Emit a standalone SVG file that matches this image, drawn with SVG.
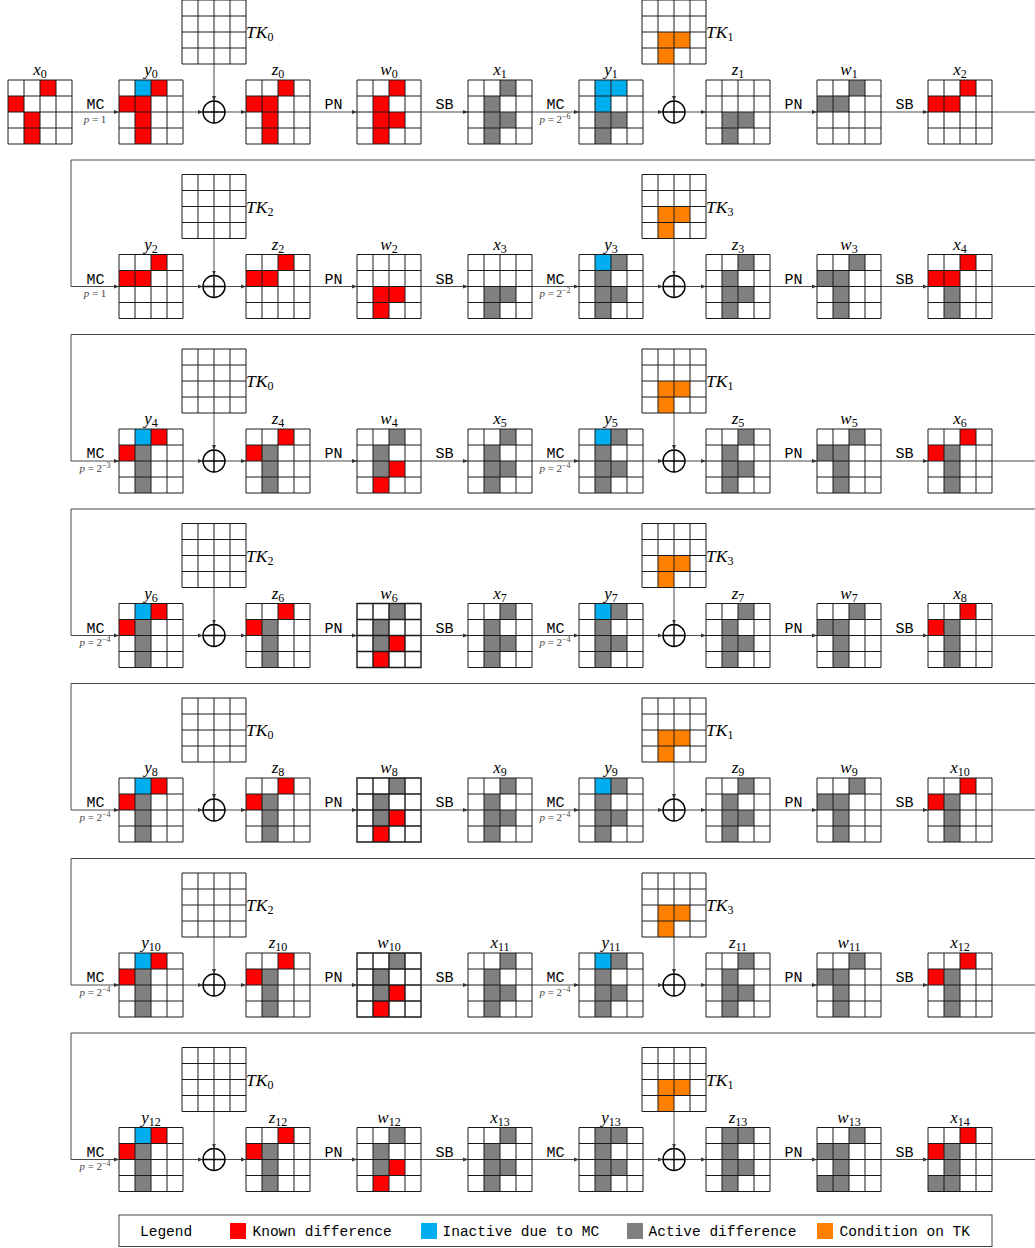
<svg xmlns="http://www.w3.org/2000/svg" xmlns:xlink="http://www.w3.org/1999/xlink" width="1035" height="1248" viewBox="0 0 1035 1248">
<style>
.bg{fill:#fff}
.r{fill:#ff0000}.b{fill:#00aeef}.g{fill:#808080}.o{fill:#ff8000}
.gl{fill:none;stroke:#1a1a1a;stroke-width:1}
.gl.bold{stroke-width:1.4}
.lab{font-family:"Liberation Serif",serif;font-style:italic;font-size:17px;text-anchor:middle;fill:#000}
.tk{font-family:"Liberation Serif",serif;font-style:italic;font-size:17.5px;fill:#000}
.sb{font-style:normal;font-size:12px}
.op{font-family:"Liberation Mono",monospace;font-size:15px;text-anchor:middle;fill:#000}
.p{font-family:"Liberation Serif",serif;font-size:11px;text-anchor:middle;fill:#444}
.pi{font-style:italic}
.sup{font-size:8px}
.conn path{fill:none;stroke:#333;stroke-width:0.9}
.arr{marker-end:url(#ah)}
.xc{fill:#fff;stroke:#000;stroke-width:1.4}
.xp{fill:none;stroke:#000;stroke-width:1.4}
.leg{font-family:"Liberation Mono",monospace;font-size:14.5px;fill:#000}
.legbox{fill:#fff;stroke:#444;stroke-width:1}
</style>
<defs>
<marker id="ah" viewBox="0 0 6 6" refX="6" refY="3" markerWidth="5" markerHeight="5" orient="auto" markerUnits="userSpaceOnUse"><path d="M0,0.6 L6,3 L0,5.4 Z" fill="#333"/></marker>
<path id="gl" d="M0,0H64V64H0Z M16,0V64 M32,0V64 M48,0V64 M0,16H64 M0,32H64 M0,48H64"/>
<g id="xorsym"><circle class="xc" cx="0" cy="0" r="11"/><path class="xp" d="M-11,0H11M0,-11V11"/></g>
<g id="p_x0"><rect class="r" x="32" y="0" width="16" height="16"/><rect class="r" x="0" y="16" width="16" height="16"/><rect class="r" x="16" y="32" width="16" height="16"/><rect class="r" x="16" y="48" width="16" height="16"/></g>
<g id="p_y0"><rect class="b" x="16" y="0" width="16" height="16"/><rect class="r" x="32" y="0" width="16" height="16"/><rect class="r" x="0" y="16" width="16" height="16"/><rect class="r" x="16" y="16" width="16" height="16"/><rect class="r" x="16" y="32" width="16" height="16"/><rect class="r" x="16" y="48" width="16" height="16"/></g>
<g id="p_z0"><rect class="r" x="32" y="0" width="16" height="16"/><rect class="r" x="0" y="16" width="16" height="16"/><rect class="r" x="16" y="16" width="16" height="16"/><rect class="r" x="16" y="32" width="16" height="16"/><rect class="r" x="16" y="48" width="16" height="16"/></g>
<g id="p_w0"><rect class="r" x="32" y="0" width="16" height="16"/><rect class="r" x="16" y="16" width="16" height="16"/><rect class="r" x="16" y="32" width="16" height="16"/><rect class="r" x="32" y="32" width="16" height="16"/><rect class="r" x="16" y="48" width="16" height="16"/></g>
<g id="p_x1"><rect class="g" x="32" y="0" width="16" height="16"/><rect class="g" x="16" y="16" width="16" height="16"/><rect class="g" x="16" y="32" width="16" height="16"/><rect class="g" x="32" y="32" width="16" height="16"/><rect class="g" x="16" y="48" width="16" height="16"/></g>
<g id="p_y1"><rect class="b" x="16" y="0" width="16" height="16"/><rect class="b" x="32" y="0" width="16" height="16"/><rect class="b" x="16" y="16" width="16" height="16"/><rect class="g" x="16" y="32" width="16" height="16"/><rect class="g" x="32" y="32" width="16" height="16"/><rect class="g" x="16" y="48" width="16" height="16"/></g>
<g id="p_tk"><rect class="o" x="16" y="32" width="16" height="16"/><rect class="o" x="32" y="32" width="16" height="16"/><rect class="o" x="16" y="48" width="16" height="16"/></g>
<g id="p_z1"><rect class="g" x="16" y="32" width="16" height="16"/><rect class="g" x="32" y="32" width="16" height="16"/><rect class="g" x="16" y="48" width="16" height="16"/></g>
<g id="p_w1"><rect class="g" x="32" y="0" width="16" height="16"/><rect class="g" x="0" y="16" width="16" height="16"/><rect class="g" x="16" y="16" width="16" height="16"/></g>
<g id="p_x2"><rect class="r" x="32" y="0" width="16" height="16"/><rect class="r" x="0" y="16" width="16" height="16"/><rect class="r" x="16" y="16" width="16" height="16"/></g>
<g id="p_w2"><rect class="r" x="16" y="32" width="16" height="16"/><rect class="r" x="32" y="32" width="16" height="16"/><rect class="r" x="16" y="48" width="16" height="16"/></g>
<g id="p_y3"><rect class="b" x="16" y="0" width="16" height="16"/><rect class="g" x="32" y="0" width="16" height="16"/><rect class="g" x="16" y="16" width="16" height="16"/><rect class="g" x="16" y="32" width="16" height="16"/><rect class="g" x="32" y="32" width="16" height="16"/><rect class="g" x="16" y="48" width="16" height="16"/></g>
<g id="p_w3"><rect class="g" x="32" y="0" width="16" height="16"/><rect class="g" x="0" y="16" width="16" height="16"/><rect class="g" x="16" y="16" width="16" height="16"/><rect class="g" x="16" y="32" width="16" height="16"/><rect class="g" x="16" y="48" width="16" height="16"/></g>
<g id="p_x4"><rect class="r" x="32" y="0" width="16" height="16"/><rect class="r" x="0" y="16" width="16" height="16"/><rect class="r" x="16" y="16" width="16" height="16"/><rect class="g" x="16" y="32" width="16" height="16"/><rect class="g" x="16" y="48" width="16" height="16"/></g>
<g id="p_yA"><rect class="b" x="16" y="0" width="16" height="16"/><rect class="r" x="32" y="0" width="16" height="16"/><rect class="r" x="0" y="16" width="16" height="16"/><rect class="g" x="16" y="16" width="16" height="16"/><rect class="g" x="16" y="32" width="16" height="16"/><rect class="g" x="16" y="48" width="16" height="16"/></g>
<g id="p_zA"><rect class="r" x="32" y="0" width="16" height="16"/><rect class="r" x="0" y="16" width="16" height="16"/><rect class="g" x="16" y="16" width="16" height="16"/><rect class="g" x="16" y="32" width="16" height="16"/><rect class="g" x="16" y="48" width="16" height="16"/></g>
<g id="p_wA"><rect class="g" x="32" y="0" width="16" height="16"/><rect class="g" x="16" y="16" width="16" height="16"/><rect class="g" x="16" y="32" width="16" height="16"/><rect class="r" x="32" y="32" width="16" height="16"/><rect class="r" x="16" y="48" width="16" height="16"/></g>
<g id="p_y13"><rect class="g" x="16" y="0" width="16" height="16"/><rect class="g" x="32" y="0" width="16" height="16"/><rect class="g" x="16" y="16" width="16" height="16"/><rect class="g" x="16" y="32" width="16" height="16"/><rect class="g" x="32" y="32" width="16" height="16"/><rect class="g" x="16" y="48" width="16" height="16"/></g>
<g id="p_w13"><rect class="g" x="32" y="0" width="16" height="16"/><rect class="g" x="0" y="16" width="16" height="16"/><rect class="g" x="16" y="16" width="16" height="16"/><rect class="g" x="16" y="32" width="16" height="16"/><rect class="g" x="0" y="48" width="16" height="16"/><rect class="g" x="16" y="48" width="16" height="16"/></g>
<g id="p_x14"><rect class="r" x="32" y="0" width="16" height="16"/><rect class="r" x="0" y="16" width="16" height="16"/><rect class="g" x="16" y="16" width="16" height="16"/><rect class="g" x="16" y="32" width="16" height="16"/><rect class="g" x="0" y="48" width="16" height="16"/><rect class="g" x="16" y="48" width="16" height="16"/></g>
</defs>

<!-- connectors -->
<g id="connectors" class="conn">
<g transform="translate(0,112)">
<path class="arr" d="M72,0H119"/>
<path class="arr" d="M183,0H203"/><path class="arr" d="M225,0H246"/><path class="arr" d="M310,0H357"/><path class="arr" d="M421,0H468"/><path class="arr" d="M532,0H579"/><path class="arr" d="M643,0H663"/><path class="arr" d="M685,0H706"/><path class="arr" d="M770,0H817"/><path class="arr" d="M881,0H928"/><path d="M992,0H1035"/>
<path class="arr" d="M214,-48V-11"/><path class="arr" d="M674,-48V-11"/>
</g>
<g transform="translate(0,286.5)">
<path class="arr" d="M1035,-126.5H71V0H119"/>
<path class="arr" d="M183,0H203"/><path class="arr" d="M225,0H246"/><path class="arr" d="M310,0H357"/><path class="arr" d="M421,0H468"/><path class="arr" d="M532,0H579"/><path class="arr" d="M643,0H663"/><path class="arr" d="M685,0H706"/><path class="arr" d="M770,0H817"/><path class="arr" d="M881,0H928"/><path d="M992,0H1035"/>
<path class="arr" d="M214,-48V-11"/><path class="arr" d="M674,-48V-11"/>
</g>
<g transform="translate(0,461)">
<path class="arr" d="M1035,-126.5H71V0H119"/>
<path class="arr" d="M183,0H203"/><path class="arr" d="M225,0H246"/><path class="arr" d="M310,0H357"/><path class="arr" d="M421,0H468"/><path class="arr" d="M532,0H579"/><path class="arr" d="M643,0H663"/><path class="arr" d="M685,0H706"/><path class="arr" d="M770,0H817"/><path class="arr" d="M881,0H928"/><path d="M992,0H1035"/>
<path class="arr" d="M214,-48V-11"/><path class="arr" d="M674,-48V-11"/>
</g>
<g transform="translate(0,635.5)">
<path class="arr" d="M1035,-126.5H71V0H119"/>
<path class="arr" d="M183,0H203"/><path class="arr" d="M225,0H246"/><path class="arr" d="M310,0H357"/><path class="arr" d="M421,0H468"/><path class="arr" d="M532,0H579"/><path class="arr" d="M643,0H663"/><path class="arr" d="M685,0H706"/><path class="arr" d="M770,0H817"/><path class="arr" d="M881,0H928"/><path d="M992,0H1035"/>
<path class="arr" d="M214,-48V-11"/><path class="arr" d="M674,-48V-11"/>
</g>
<g transform="translate(0,810)">
<path class="arr" d="M1035,-126.5H71V0H119"/>
<path class="arr" d="M183,0H203"/><path class="arr" d="M225,0H246"/><path class="arr" d="M310,0H357"/><path class="arr" d="M421,0H468"/><path class="arr" d="M532,0H579"/><path class="arr" d="M643,0H663"/><path class="arr" d="M685,0H706"/><path class="arr" d="M770,0H817"/><path class="arr" d="M881,0H928"/><path d="M992,0H1035"/>
<path class="arr" d="M214,-48V-11"/><path class="arr" d="M674,-48V-11"/>
</g>
<g transform="translate(0,985)">
<path class="arr" d="M1035,-126.5H71V0H119"/>
<path class="arr" d="M183,0H203"/><path class="arr" d="M225,0H246"/><path class="arr" d="M310,0H357"/><path class="arr" d="M421,0H468"/><path class="arr" d="M532,0H579"/><path class="arr" d="M643,0H663"/><path class="arr" d="M685,0H706"/><path class="arr" d="M770,0H817"/><path class="arr" d="M881,0H928"/><path d="M992,0H1035"/>
<path class="arr" d="M214,-48V-11"/><path class="arr" d="M674,-48V-11"/>
</g>
<g transform="translate(0,1159.5)">
<path class="arr" d="M1035,-126.5H71V0H119"/>
<path class="arr" d="M183,0H203"/><path class="arr" d="M225,0H246"/><path class="arr" d="M310,0H357"/><path class="arr" d="M421,0H468"/><path class="arr" d="M532,0H579"/><path class="arr" d="M643,0H663"/><path class="arr" d="M685,0H706"/><path class="arr" d="M770,0H817"/><path class="arr" d="M881,0H928"/><path d="M992,0H1035"/>
<path class="arr" d="M214,-48V-11"/><path class="arr" d="M674,-48V-11"/>
</g>
</g>

<!-- operation labels -->
<g id="op-labels">
<g transform="translate(0,112)">
<text class="op" x="95.5" y="-3">MC</text><text class="p" x="95" y="10.5"><tspan class="pi">p</tspan> = 1</text>
<text class="op" x="333.5" y="-3">PN</text><text class="op" x="444.5" y="-3">SB</text>
<text class="op" x="555.5" y="-3">MC</text><text class="p" x="555" y="10.5"><tspan class="pi">p</tspan> = 2<tspan class="sup" dy="-4">−6</tspan></text>
<text class="op" x="793.5" y="-3">PN</text><text class="op" x="904.5" y="-3">SB</text>
</g>
<g transform="translate(0,286.5)">
<text class="op" x="95.5" y="-3">MC</text><text class="p" x="95" y="10.5"><tspan class="pi">p</tspan> = 1</text>
<text class="op" x="333.5" y="-3">PN</text><text class="op" x="444.5" y="-3">SB</text>
<text class="op" x="555.5" y="-3">MC</text><text class="p" x="555" y="10.5"><tspan class="pi">p</tspan> = 2<tspan class="sup" dy="-4">−2</tspan></text>
<text class="op" x="793.5" y="-3">PN</text><text class="op" x="904.5" y="-3">SB</text>
</g>
<g transform="translate(0,461)">
<text class="op" x="95.5" y="-3">MC</text><text class="p" x="95" y="10.5"><tspan class="pi">p</tspan> = 2<tspan class="sup" dy="-4">−3</tspan></text>
<text class="op" x="333.5" y="-3">PN</text><text class="op" x="444.5" y="-3">SB</text>
<text class="op" x="555.5" y="-3">MC</text><text class="p" x="555" y="10.5"><tspan class="pi">p</tspan> = 2<tspan class="sup" dy="-4">−4</tspan></text>
<text class="op" x="793.5" y="-3">PN</text><text class="op" x="904.5" y="-3">SB</text>
</g>
<g transform="translate(0,635.5)">
<text class="op" x="95.5" y="-3">MC</text><text class="p" x="95" y="10.5"><tspan class="pi">p</tspan> = 2<tspan class="sup" dy="-4">−4</tspan></text>
<text class="op" x="333.5" y="-3">PN</text><text class="op" x="444.5" y="-3">SB</text>
<text class="op" x="555.5" y="-3">MC</text><text class="p" x="555" y="10.5"><tspan class="pi">p</tspan> = 2<tspan class="sup" dy="-4">−4</tspan></text>
<text class="op" x="793.5" y="-3">PN</text><text class="op" x="904.5" y="-3">SB</text>
</g>
<g transform="translate(0,810)">
<text class="op" x="95.5" y="-3">MC</text><text class="p" x="95" y="10.5"><tspan class="pi">p</tspan> = 2<tspan class="sup" dy="-4">−4</tspan></text>
<text class="op" x="333.5" y="-3">PN</text><text class="op" x="444.5" y="-3">SB</text>
<text class="op" x="555.5" y="-3">MC</text><text class="p" x="555" y="10.5"><tspan class="pi">p</tspan> = 2<tspan class="sup" dy="-4">−4</tspan></text>
<text class="op" x="793.5" y="-3">PN</text><text class="op" x="904.5" y="-3">SB</text>
</g>
<g transform="translate(0,985)">
<text class="op" x="95.5" y="-3">MC</text><text class="p" x="95" y="10.5"><tspan class="pi">p</tspan> = 2<tspan class="sup" dy="-4">−4</tspan></text>
<text class="op" x="333.5" y="-3">PN</text><text class="op" x="444.5" y="-3">SB</text>
<text class="op" x="555.5" y="-3">MC</text><text class="p" x="555" y="10.5"><tspan class="pi">p</tspan> = 2<tspan class="sup" dy="-4">−4</tspan></text>
<text class="op" x="793.5" y="-3">PN</text><text class="op" x="904.5" y="-3">SB</text>
</g>
<g transform="translate(0,1159.5)">
<text class="op" x="95.5" y="-3">MC</text><text class="p" x="95" y="10.5"><tspan class="pi">p</tspan> = 2<tspan class="sup" dy="-4">−4</tspan></text>
<text class="op" x="333.5" y="-3">PN</text><text class="op" x="444.5" y="-3">SB</text>
<text class="op" x="555.5" y="-3">MC</text>
<text class="op" x="793.5" y="-3">PN</text><text class="op" x="904.5" y="-3">SB</text>
</g>
</g>

<!-- row 0 -->
<g id="row0" transform="translate(0,112)">
<g id="x0" transform="translate(8,-32)"><rect class="bg" width="64" height="64"/><use href="#p_x0"/><use href="#gl" class="gl"/><text class="lab" x="32" y="-5">x<tspan class="sb" dy="3">0</tspan></text></g>
<g id="y0" transform="translate(119,-32)"><rect class="bg" width="64" height="64"/><use href="#p_y0"/><use href="#gl" class="gl"/><text class="lab" x="32" y="-5">y<tspan class="sb" dy="3">0</tspan></text></g>
<g id="TK0-r0" transform="translate(182,-112)"><rect class="bg" width="64" height="64"/><use href="#gl" class="gl"/><text class="tk" x="64" y="38">TK<tspan class="sb" dy="3">0</tspan></text></g>
<g id="xor0a"><use href="#xorsym" x="214" y="0"/></g>
<g id="z0" transform="translate(246,-32)"><rect class="bg" width="64" height="64"/><use href="#p_z0"/><use href="#gl" class="gl"/><text class="lab" x="32" y="-5">z<tspan class="sb" dy="3">0</tspan></text></g>
<g id="w0" transform="translate(357,-32)"><rect class="bg" width="64" height="64"/><use href="#p_w0"/><use href="#gl" class="gl"/><text class="lab" x="32" y="-5">w<tspan class="sb" dy="3">0</tspan></text></g>
<g id="x1" transform="translate(468,-32)"><rect class="bg" width="64" height="64"/><use href="#p_x1"/><use href="#gl" class="gl"/><text class="lab" x="32" y="-5">x<tspan class="sb" dy="3">1</tspan></text></g>
<g id="y1" transform="translate(579,-32)"><rect class="bg" width="64" height="64"/><use href="#p_y1"/><use href="#gl" class="gl"/><text class="lab" x="32" y="-5">y<tspan class="sb" dy="3">1</tspan></text></g>
<g id="TK1-r0" transform="translate(642,-112)"><rect class="bg" width="64" height="64"/><use href="#p_tk"/><use href="#gl" class="gl"/><text class="tk" x="64" y="38">TK<tspan class="sb" dy="3">1</tspan></text></g>
<g id="xor0b"><use href="#xorsym" x="674" y="0"/></g>
<g id="z1" transform="translate(706,-32)"><rect class="bg" width="64" height="64"/><use href="#p_z1"/><use href="#gl" class="gl"/><text class="lab" x="32" y="-5">z<tspan class="sb" dy="3">1</tspan></text></g>
<g id="w1" transform="translate(817,-32)"><rect class="bg" width="64" height="64"/><use href="#p_w1"/><use href="#gl" class="gl"/><text class="lab" x="32" y="-5">w<tspan class="sb" dy="3">1</tspan></text></g>
<g id="x2" transform="translate(928,-32)"><rect class="bg" width="64" height="64"/><use href="#p_x2"/><use href="#gl" class="gl"/><text class="lab" x="32" y="-5">x<tspan class="sb" dy="3">2</tspan></text></g>
</g>

<!-- row 1 -->
<g id="row1" transform="translate(0,286.5)">
<g id="y2" transform="translate(119,-32)"><rect class="bg" width="64" height="64"/><use href="#p_x2"/><use href="#gl" class="gl"/><text class="lab" x="32" y="-5">y<tspan class="sb" dy="3">2</tspan></text></g>
<g id="TK2-r1" transform="translate(182,-112)"><rect class="bg" width="64" height="64"/><use href="#gl" class="gl"/><text class="tk" x="64" y="38">TK<tspan class="sb" dy="3">2</tspan></text></g>
<g id="xor1a"><use href="#xorsym" x="214" y="0"/></g>
<g id="z2" transform="translate(246,-32)"><rect class="bg" width="64" height="64"/><use href="#p_x2"/><use href="#gl" class="gl"/><text class="lab" x="32" y="-5">z<tspan class="sb" dy="3">2</tspan></text></g>
<g id="w2" transform="translate(357,-32)"><rect class="bg" width="64" height="64"/><use href="#p_w2"/><use href="#gl" class="gl"/><text class="lab" x="32" y="-5">w<tspan class="sb" dy="3">2</tspan></text></g>
<g id="x3" transform="translate(468,-32)"><rect class="bg" width="64" height="64"/><use href="#p_z1"/><use href="#gl" class="gl"/><text class="lab" x="32" y="-5">x<tspan class="sb" dy="3">3</tspan></text></g>
<g id="y3" transform="translate(579,-32)"><rect class="bg" width="64" height="64"/><use href="#p_y3"/><use href="#gl" class="gl"/><text class="lab" x="32" y="-5">y<tspan class="sb" dy="3">3</tspan></text></g>
<g id="TK3-r1" transform="translate(642,-112)"><rect class="bg" width="64" height="64"/><use href="#p_tk"/><use href="#gl" class="gl"/><text class="tk" x="64" y="38">TK<tspan class="sb" dy="3">3</tspan></text></g>
<g id="xor1b"><use href="#xorsym" x="674" y="0"/></g>
<g id="z3" transform="translate(706,-32)"><rect class="bg" width="64" height="64"/><use href="#p_x1"/><use href="#gl" class="gl"/><text class="lab" x="32" y="-5">z<tspan class="sb" dy="3">3</tspan></text></g>
<g id="w3" transform="translate(817,-32)"><rect class="bg" width="64" height="64"/><use href="#p_w3"/><use href="#gl" class="gl"/><text class="lab" x="32" y="-5">w<tspan class="sb" dy="3">3</tspan></text></g>
<g id="x4" transform="translate(928,-32)"><rect class="bg" width="64" height="64"/><use href="#p_x4"/><use href="#gl" class="gl"/><text class="lab" x="32" y="-5">x<tspan class="sb" dy="3">4</tspan></text></g>
</g>

<!-- row 2 -->
<g id="row2" transform="translate(0,461)">
<g id="y4" transform="translate(119,-32)"><rect class="bg" width="64" height="64"/><use href="#p_yA"/><use href="#gl" class="gl"/><text class="lab" x="32" y="-5">y<tspan class="sb" dy="3">4</tspan></text></g>
<g id="TK0-r2" transform="translate(182,-112)"><rect class="bg" width="64" height="64"/><use href="#gl" class="gl"/><text class="tk" x="64" y="38">TK<tspan class="sb" dy="3">0</tspan></text></g>
<g id="xor2a"><use href="#xorsym" x="214" y="0"/></g>
<g id="z4" transform="translate(246,-32)"><rect class="bg" width="64" height="64"/><use href="#p_zA"/><use href="#gl" class="gl"/><text class="lab" x="32" y="-5">z<tspan class="sb" dy="3">4</tspan></text></g>
<g id="w4" transform="translate(357,-32)"><rect class="bg" width="64" height="64"/><use href="#p_wA"/><use href="#gl" class="gl"/><text class="lab" x="32" y="-5">w<tspan class="sb" dy="3">4</tspan></text></g>
<g id="x5" transform="translate(468,-32)"><rect class="bg" width="64" height="64"/><use href="#p_x1"/><use href="#gl" class="gl"/><text class="lab" x="32" y="-5">x<tspan class="sb" dy="3">5</tspan></text></g>
<g id="y5" transform="translate(579,-32)"><rect class="bg" width="64" height="64"/><use href="#p_y3"/><use href="#gl" class="gl"/><text class="lab" x="32" y="-5">y<tspan class="sb" dy="3">5</tspan></text></g>
<g id="TK1-r2" transform="translate(642,-112)"><rect class="bg" width="64" height="64"/><use href="#p_tk"/><use href="#gl" class="gl"/><text class="tk" x="64" y="38">TK<tspan class="sb" dy="3">1</tspan></text></g>
<g id="xor2b"><use href="#xorsym" x="674" y="0"/></g>
<g id="z5" transform="translate(706,-32)"><rect class="bg" width="64" height="64"/><use href="#p_x1"/><use href="#gl" class="gl"/><text class="lab" x="32" y="-5">z<tspan class="sb" dy="3">5</tspan></text></g>
<g id="w5" transform="translate(817,-32)"><rect class="bg" width="64" height="64"/><use href="#p_w3"/><use href="#gl" class="gl"/><text class="lab" x="32" y="-5">w<tspan class="sb" dy="3">5</tspan></text></g>
<g id="x6" transform="translate(928,-32)"><rect class="bg" width="64" height="64"/><use href="#p_zA"/><use href="#gl" class="gl"/><text class="lab" x="32" y="-5">x<tspan class="sb" dy="3">6</tspan></text></g>
</g>

<!-- row 3 -->
<g id="row3" transform="translate(0,635.5)">
<g id="y6" transform="translate(119,-32)"><rect class="bg" width="64" height="64"/><use href="#p_yA"/><use href="#gl" class="gl"/><text class="lab" x="32" y="-5">y<tspan class="sb" dy="3">6</tspan></text></g>
<g id="TK2-r3" transform="translate(182,-112)"><rect class="bg" width="64" height="64"/><use href="#gl" class="gl"/><text class="tk" x="64" y="38">TK<tspan class="sb" dy="3">2</tspan></text></g>
<g id="xor3a"><use href="#xorsym" x="214" y="0"/></g>
<g id="z6" transform="translate(246,-32)"><rect class="bg" width="64" height="64"/><use href="#p_zA"/><use href="#gl" class="gl"/><text class="lab" x="32" y="-5">z<tspan class="sb" dy="3">6</tspan></text></g>
<g id="w6" transform="translate(357,-32)"><rect class="bg" width="64" height="64"/><use href="#p_wA"/><use href="#gl" class="gl bold"/><text class="lab" x="32" y="-5">w<tspan class="sb" dy="3">6</tspan></text></g>
<g id="x7" transform="translate(468,-32)"><rect class="bg" width="64" height="64"/><use href="#p_x1"/><use href="#gl" class="gl"/><text class="lab" x="32" y="-5">x<tspan class="sb" dy="3">7</tspan></text></g>
<g id="y7" transform="translate(579,-32)"><rect class="bg" width="64" height="64"/><use href="#p_y3"/><use href="#gl" class="gl"/><text class="lab" x="32" y="-5">y<tspan class="sb" dy="3">7</tspan></text></g>
<g id="TK3-r3" transform="translate(642,-112)"><rect class="bg" width="64" height="64"/><use href="#p_tk"/><use href="#gl" class="gl"/><text class="tk" x="64" y="38">TK<tspan class="sb" dy="3">3</tspan></text></g>
<g id="xor3b"><use href="#xorsym" x="674" y="0"/></g>
<g id="z7" transform="translate(706,-32)"><rect class="bg" width="64" height="64"/><use href="#p_x1"/><use href="#gl" class="gl"/><text class="lab" x="32" y="-5">z<tspan class="sb" dy="3">7</tspan></text></g>
<g id="w7" transform="translate(817,-32)"><rect class="bg" width="64" height="64"/><use href="#p_w3"/><use href="#gl" class="gl"/><text class="lab" x="32" y="-5">w<tspan class="sb" dy="3">7</tspan></text></g>
<g id="x8" transform="translate(928,-32)"><rect class="bg" width="64" height="64"/><use href="#p_zA"/><use href="#gl" class="gl"/><text class="lab" x="32" y="-5">x<tspan class="sb" dy="3">8</tspan></text></g>
</g>

<!-- row 4 -->
<g id="row4" transform="translate(0,810)">
<g id="y8" transform="translate(119,-32)"><rect class="bg" width="64" height="64"/><use href="#p_yA"/><use href="#gl" class="gl"/><text class="lab" x="32" y="-5">y<tspan class="sb" dy="3">8</tspan></text></g>
<g id="TK0-r4" transform="translate(182,-112)"><rect class="bg" width="64" height="64"/><use href="#gl" class="gl"/><text class="tk" x="64" y="38">TK<tspan class="sb" dy="3">0</tspan></text></g>
<g id="xor4a"><use href="#xorsym" x="214" y="0"/></g>
<g id="z8" transform="translate(246,-32)"><rect class="bg" width="64" height="64"/><use href="#p_zA"/><use href="#gl" class="gl"/><text class="lab" x="32" y="-5">z<tspan class="sb" dy="3">8</tspan></text></g>
<g id="w8" transform="translate(357,-32)"><rect class="bg" width="64" height="64"/><use href="#p_wA"/><use href="#gl" class="gl bold"/><text class="lab" x="32" y="-5">w<tspan class="sb" dy="3">8</tspan></text></g>
<g id="x9" transform="translate(468,-32)"><rect class="bg" width="64" height="64"/><use href="#p_x1"/><use href="#gl" class="gl"/><text class="lab" x="32" y="-5">x<tspan class="sb" dy="3">9</tspan></text></g>
<g id="y9" transform="translate(579,-32)"><rect class="bg" width="64" height="64"/><use href="#p_y3"/><use href="#gl" class="gl"/><text class="lab" x="32" y="-5">y<tspan class="sb" dy="3">9</tspan></text></g>
<g id="TK1-r4" transform="translate(642,-112)"><rect class="bg" width="64" height="64"/><use href="#p_tk"/><use href="#gl" class="gl"/><text class="tk" x="64" y="38">TK<tspan class="sb" dy="3">1</tspan></text></g>
<g id="xor4b"><use href="#xorsym" x="674" y="0"/></g>
<g id="z9" transform="translate(706,-32)"><rect class="bg" width="64" height="64"/><use href="#p_x1"/><use href="#gl" class="gl"/><text class="lab" x="32" y="-5">z<tspan class="sb" dy="3">9</tspan></text></g>
<g id="w9" transform="translate(817,-32)"><rect class="bg" width="64" height="64"/><use href="#p_w3"/><use href="#gl" class="gl"/><text class="lab" x="32" y="-5">w<tspan class="sb" dy="3">9</tspan></text></g>
<g id="x10" transform="translate(928,-32)"><rect class="bg" width="64" height="64"/><use href="#p_zA"/><use href="#gl" class="gl"/><text class="lab" x="32" y="-5">x<tspan class="sb" dy="3">10</tspan></text></g>
</g>

<!-- row 5 -->
<g id="row5" transform="translate(0,985)">
<g id="y10" transform="translate(119,-32)"><rect class="bg" width="64" height="64"/><use href="#p_yA"/><use href="#gl" class="gl"/><text class="lab" x="32" y="-5">y<tspan class="sb" dy="3">10</tspan></text></g>
<g id="TK2-r5" transform="translate(182,-112)"><rect class="bg" width="64" height="64"/><use href="#gl" class="gl"/><text class="tk" x="64" y="38">TK<tspan class="sb" dy="3">2</tspan></text></g>
<g id="xor5a"><use href="#xorsym" x="214" y="0"/></g>
<g id="z10" transform="translate(246,-32)"><rect class="bg" width="64" height="64"/><use href="#p_zA"/><use href="#gl" class="gl"/><text class="lab" x="32" y="-5">z<tspan class="sb" dy="3">10</tspan></text></g>
<g id="w10" transform="translate(357,-32)"><rect class="bg" width="64" height="64"/><use href="#p_wA"/><use href="#gl" class="gl bold"/><text class="lab" x="32" y="-5">w<tspan class="sb" dy="3">10</tspan></text></g>
<g id="x11" transform="translate(468,-32)"><rect class="bg" width="64" height="64"/><use href="#p_x1"/><use href="#gl" class="gl"/><text class="lab" x="32" y="-5">x<tspan class="sb" dy="3">11</tspan></text></g>
<g id="y11" transform="translate(579,-32)"><rect class="bg" width="64" height="64"/><use href="#p_y3"/><use href="#gl" class="gl"/><text class="lab" x="32" y="-5">y<tspan class="sb" dy="3">11</tspan></text></g>
<g id="TK3-r5" transform="translate(642,-112)"><rect class="bg" width="64" height="64"/><use href="#p_tk"/><use href="#gl" class="gl"/><text class="tk" x="64" y="38">TK<tspan class="sb" dy="3">3</tspan></text></g>
<g id="xor5b"><use href="#xorsym" x="674" y="0"/></g>
<g id="z11" transform="translate(706,-32)"><rect class="bg" width="64" height="64"/><use href="#p_x1"/><use href="#gl" class="gl"/><text class="lab" x="32" y="-5">z<tspan class="sb" dy="3">11</tspan></text></g>
<g id="w11" transform="translate(817,-32)"><rect class="bg" width="64" height="64"/><use href="#p_w3"/><use href="#gl" class="gl"/><text class="lab" x="32" y="-5">w<tspan class="sb" dy="3">11</tspan></text></g>
<g id="x12" transform="translate(928,-32)"><rect class="bg" width="64" height="64"/><use href="#p_zA"/><use href="#gl" class="gl"/><text class="lab" x="32" y="-5">x<tspan class="sb" dy="3">12</tspan></text></g>
</g>

<!-- row 6 -->
<g id="row6" transform="translate(0,1159.5)">
<g id="y12" transform="translate(119,-32)"><rect class="bg" width="64" height="64"/><use href="#p_yA"/><use href="#gl" class="gl"/><text class="lab" x="32" y="-5">y<tspan class="sb" dy="3">12</tspan></text></g>
<g id="TK0-r6" transform="translate(182,-112)"><rect class="bg" width="64" height="64"/><use href="#gl" class="gl"/><text class="tk" x="64" y="38">TK<tspan class="sb" dy="3">0</tspan></text></g>
<g id="xor6a"><use href="#xorsym" x="214" y="0"/></g>
<g id="z12" transform="translate(246,-32)"><rect class="bg" width="64" height="64"/><use href="#p_zA"/><use href="#gl" class="gl"/><text class="lab" x="32" y="-5">z<tspan class="sb" dy="3">12</tspan></text></g>
<g id="w12" transform="translate(357,-32)"><rect class="bg" width="64" height="64"/><use href="#p_wA"/><use href="#gl" class="gl"/><text class="lab" x="32" y="-5">w<tspan class="sb" dy="3">12</tspan></text></g>
<g id="x13" transform="translate(468,-32)"><rect class="bg" width="64" height="64"/><use href="#p_x1"/><use href="#gl" class="gl"/><text class="lab" x="32" y="-5">x<tspan class="sb" dy="3">13</tspan></text></g>
<g id="y13" transform="translate(579,-32)"><rect class="bg" width="64" height="64"/><use href="#p_y13"/><use href="#gl" class="gl"/><text class="lab" x="32" y="-5">y<tspan class="sb" dy="3">13</tspan></text></g>
<g id="TK1-r6" transform="translate(642,-112)"><rect class="bg" width="64" height="64"/><use href="#p_tk"/><use href="#gl" class="gl"/><text class="tk" x="64" y="38">TK<tspan class="sb" dy="3">1</tspan></text></g>
<g id="xor6b"><use href="#xorsym" x="674" y="0"/></g>
<g id="z13" transform="translate(706,-32)"><rect class="bg" width="64" height="64"/><use href="#p_y13"/><use href="#gl" class="gl"/><text class="lab" x="32" y="-5">z<tspan class="sb" dy="3">13</tspan></text></g>
<g id="w13" transform="translate(817,-32)"><rect class="bg" width="64" height="64"/><use href="#p_w13"/><use href="#gl" class="gl"/><text class="lab" x="32" y="-5">w<tspan class="sb" dy="3">13</tspan></text></g>
<g id="x14" transform="translate(928,-32)"><rect class="bg" width="64" height="64"/><use href="#p_x14"/><use href="#gl" class="gl"/><text class="lab" x="32" y="-5">x<tspan class="sb" dy="3">14</tspan></text></g>
</g>

<!-- legend -->
<g id="legend">
<rect class="legbox" x="119" y="1215" width="873" height="31.5"/>
<text class="leg" x="140" y="1236">Legend</text>
<rect class="r" x="230" y="1223" width="16" height="16"/>
<text class="leg" x="252.5" y="1236">Known difference</text>
<rect class="b" x="421" y="1223" width="16" height="16"/>
<text class="leg" x="442.5" y="1236">Inactive due to MC</text>
<rect class="g" x="627" y="1223" width="16" height="16"/>
<text class="leg" x="648.5" y="1236">Active difference</text>
<rect class="o" x="817" y="1223" width="16" height="16"/>
<text class="leg" x="839.5" y="1236">Condition on TK</text>
</g>
</svg>
